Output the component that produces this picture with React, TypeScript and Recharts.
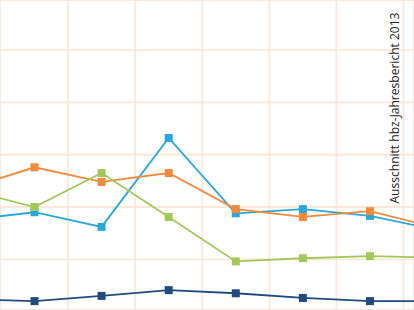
import { LineChart, Line, XAxis, YAxis, CartesianGrid } from "recharts";

const ORANGE = "#f28a3e";
const GREEN = "#a3c85a";
const CYAN = "#2aa7d9";
const NAVY = "#1f4b7f";
const GRID = "#fce8da";

// position of each period on the category axis; the first and last lie just outside the crop
const periods = [0, 1, 2, 3, 4, 5, 6, 7];
const orangeValues = [23.5, 27.6, 24.8, 26.5, 19.6, 18.1, 19.2, 16.0];
const greenValues = [23.3, 20.0, 26.5, 18.1, 9.6, 10.2, 10.6, 10.3];
const cyanValues = [17.5, 19.0, 16.2, 33.2, 18.8, 19.6, 18.3, 15.6];
const navyValues = [2.4, 2.0, 3.0, 4.1, 3.5, 2.6, 2.0, 2.0];

const xGridTicks = [0.5, 1.5, 2.5, 3.5, 4.5, 5.5, 6.5];
const yGridTicks = [10, 20, 30, 40, 50];

const data = periods.map((p, i) => ({
  p,
  orange: orangeValues[i],
  green: greenValues[i],
  cyan: cyanValues[i],
  navy: navyValues[i],
}));

const squareDot = (color: string) => (props: any) => (
  <rect
    key={`${color}-${props.index}`}
    x={props.cx - 4}
    y={props.cy - 4}
    width={8}
    height={8}
    fill={color}
    stroke="none"
  />
);

export default function App() {
  return (
    <div
      style={{
        position: "absolute",
        left: 0,
        top: 0,
        width: 414,
        height: 310,
        overflow: "hidden",
        background: "#fff",
      }}
    >
      <LineChart width={414} height={310} data={data} margin={{ top: 0, right: 0, left: 0, bottom: 0 }}>
        <CartesianGrid stroke={GRID} strokeWidth={1.8} />
        <XAxis
          dataKey="p"
          type="number"
          domain={[0.486, 6.656]}
          allowDataOverflow
          ticks={xGridTicks}
          hide
        />
        <YAxis type="number" domain={[0.3, 59.6]} allowDataOverflow ticks={yGridTicks} hide />
        <Line
          dataKey="navy"
          stroke={NAVY}
          strokeWidth={1.8}
          dot={squareDot(NAVY)}
          activeDot={false}
          isAnimationActive={false}
        />
        <Line
          dataKey="cyan"
          stroke={CYAN}
          strokeWidth={1.8}
          dot={squareDot(CYAN)}
          activeDot={false}
          isAnimationActive={false}
        />
        <Line
          dataKey="orange"
          stroke={ORANGE}
          strokeWidth={1.8}
          dot={squareDot(ORANGE)}
          activeDot={false}
          isAnimationActive={false}
        />
        <Line
          dataKey="green"
          stroke={GREEN}
          strokeWidth={1.8}
          dot={squareDot(GREEN)}
          activeDot={false}
          isAnimationActive={false}
        />
      </LineChart>
      <svg width={414} height={310} style={{ position: "absolute", left: 0, top: 0 }}>
        <text
          transform="translate(399,108) rotate(-90)"
          textAnchor="middle"
          fontFamily="'Open Sans', sans-serif"
          fontSize={13}
          fill="#222"
          textLength={191}
          lengthAdjust="spacingAndGlyphs"
        >
          Ausschnitt hbz-Jahresbericht 2013
        </text>
      </svg>
    </div>
  );
}
